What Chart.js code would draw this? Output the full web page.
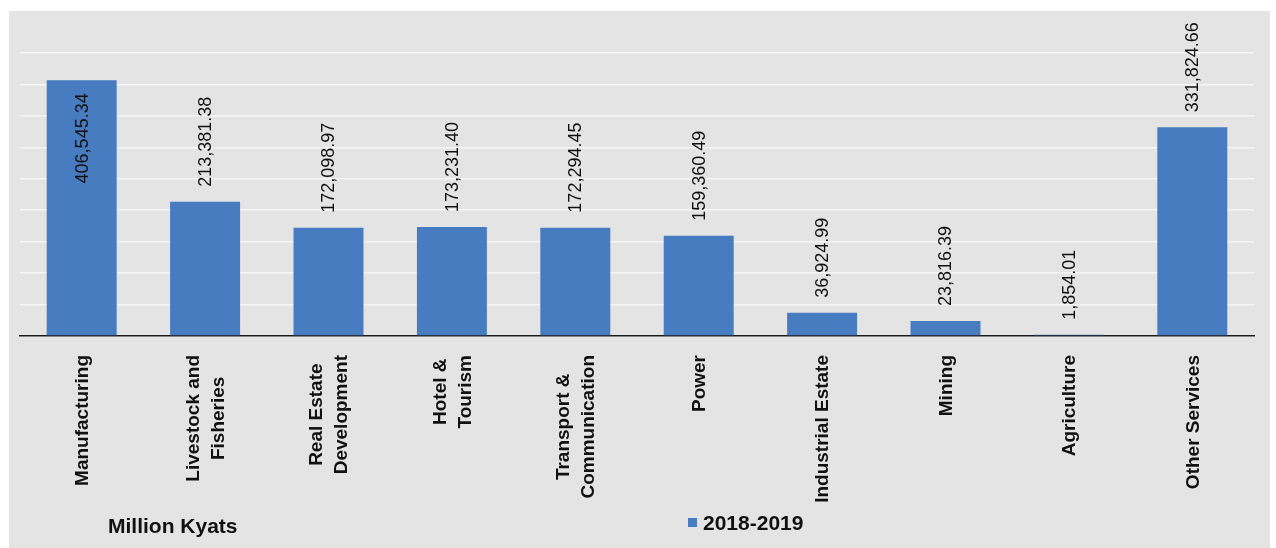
<!DOCTYPE html>
<html>
<head>
<meta charset="utf-8">
<script src="https://cdn.jsdelivr.net/npm/chart.js@4"></script>
<style>
  html, body { margin: 0; padding: 0; background: #ffffff; }
  #wrap { position: relative; width: 1276px; height: 548px; }
</style>
</head>
<body>
<div id="wrap"><canvas id="investChart" width="1276" height="548"></canvas></div>
<script>
// Chart data
const categories = [
    ['Manufacturing'],
    ['Livestock and', 'Fisheries'],
    ['Real Estate', 'Development'],
    ['Hotel &', 'Tourism'],
    ['Transport &', 'Communication'],
    ['Power'],
    ['Industrial Estate'],
    ['Mining'],
    ['Agriculture'],
    ['Other Services']
];
const values2018 = [406545.34, 213381.38, 172098.97, 173231.40, 172294.45, 159360.49, 36924.99, 23816.39, 1854.01, 331824.66];
const seriesLabel = '2018-2019';
const unitLabel = 'Million Kyats';
const axisMax = 450000;
const axisStep = 50000;

const FONT = "'Liberation Sans', Arial, sans-serif";
const barColor = '#487cc0';

// grey panel behind everything
const panelPlugin = {
    id: 'panel',
    beforeDraw(chart) {
        const c = chart.ctx;
        c.save();
        c.fillStyle = '#e4e4e4';
        c.fillRect(9, 11, 1261, 537);
        c.restore();
    }
};

// value labels, rotated, above each bar (inside if no room)
const valueLabels = {
    id: 'valueLabels',
    afterDatasetsDraw(chart) {
        const c = chart.ctx;
        const meta = chart.getDatasetMeta(0);
        c.save();
        c.font = '18px ' + FONT;
        c.fillStyle = '#111';
        c.textBaseline = 'middle';
        meta.data.forEach((bar, i) => {
            const txt = values2018[i].toLocaleString('en-US', { minimumFractionDigits: 2, maximumFractionDigits: 2 });
            const w = c.measureText(txt).width;
            c.save();
            if (bar.y - 15 - w < 10) {
                c.translate(bar.x + 1, bar.y + 13);
                c.rotate(-Math.PI / 2);
                c.textAlign = 'right';
            } else {
                c.translate(bar.x + 1, bar.y - 15);
                c.rotate(-Math.PI / 2);
                c.textAlign = 'left';
            }
            c.fillText(txt, 0, 0);
            c.restore();
        });
        c.restore();
    }
};

// category labels, rotated, lines centered on each other
const categoryLabels = {
    id: 'categoryLabels',
    afterDraw(chart) {
        const c = chart.ctx;
        const xScale = chart.scales.x;
        const top = chart.chartArea.bottom + 19;
        c.save();
        c.font = 'bold 19px ' + FONT;
        c.fillStyle = '#111';
        c.textBaseline = 'middle';
        c.textAlign = 'center';
        categories.forEach((lines, i) => {
            const x = xScale.getPixelForValue(i) + 1;
            const maxW = Math.max(...lines.map(l => c.measureText(l).width));
            c.save();
            c.translate(x, top + maxW / 2);
            c.rotate(-Math.PI / 2);
            lines.forEach((line, j) => {
                c.fillText(line, 0, (j - (lines.length - 1) / 2) * 25);
            });
            c.restore();
        });

        // unit text and legend
        c.textAlign = 'left';
        c.textBaseline = 'alphabetic';
        c.font = 'bold 21px ' + FONT;
        c.fillText(unitLabel, 108, 533);
        c.fillStyle = barColor;
        c.fillRect(688, 518, 9, 9);
        c.fillStyle = '#111';
        c.fillText(seriesLabel, 703, 530);
        c.restore();
    }
};

const ctx = document.getElementById('investChart').getContext('2d');
const chart = new Chart(ctx, {
    type: 'bar',
    data: {
        labels: categories.map(l => l.join(' ')),
        datasets: [{
            label: seriesLabel,
            data: values2018,
            backgroundColor: barColor,
            borderWidth: 0,
            categoryPercentage: 1.0,
            barPercentage: 0.567
        }]
    },
    options: {
        responsive: false,
        animation: false,
        layout: {
            padding: { top: 53, left: 20, right: 22, bottom: 212 }
        },
        scales: {
            x: {
                ticks: { display: false },
                grid: { display: false, drawTicks: false },
                border: { display: true, color: '#1a1a1a', width: 1.5 }
            },
            y: {
                min: 0,
                max: axisMax,
                ticks: { display: false, stepSize: axisStep },
                grid: { color: '#f6f6f6', lineWidth: 1.5, drawTicks: false },
                border: { display: false }
            }
        },
        plugins: {
            legend: { display: false },
            tooltip: { enabled: false }
        }
    },
    plugins: [panelPlugin, valueLabels, categoryLabels]
});
</script>
</body>
</html>
